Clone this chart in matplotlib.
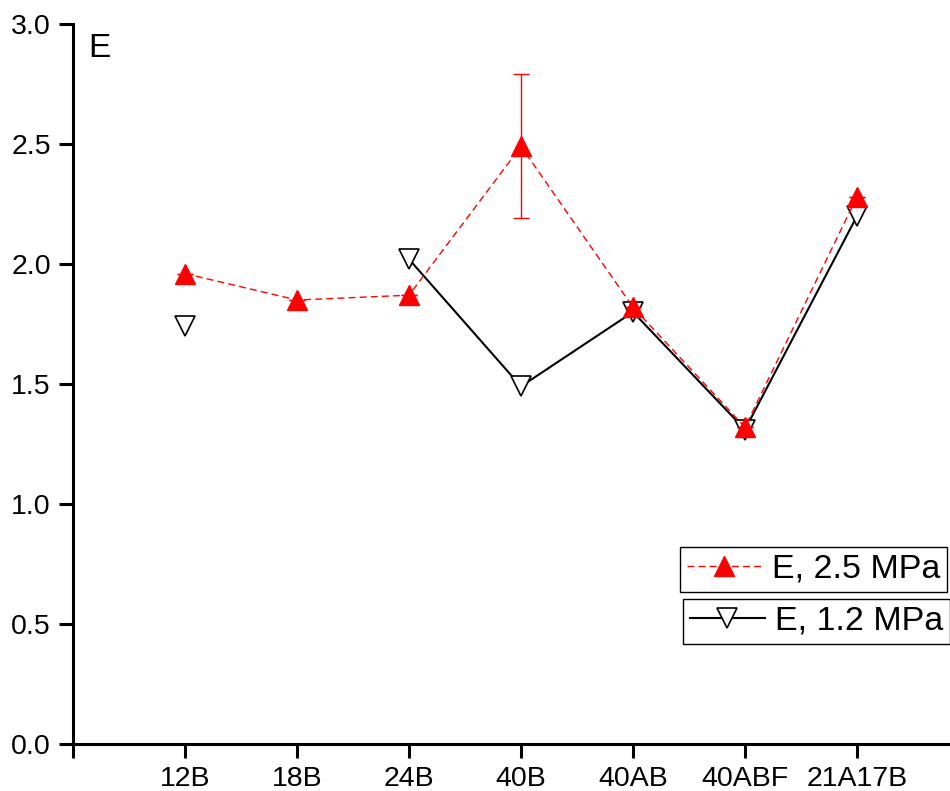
import numpy as np
import matplotlib
matplotlib.use("Agg")
import matplotlib.pyplot as plt

plt.rcParams['font.family'] = ['Liberation Sans', 'DejaVu Sans']

categories = ["12B", "18B", "24B", "40B", "40AB", "40ABF", "21A17B"]
e_25 = [1.96, 1.85, 1.87, 2.49, 1.82, 1.32, 2.28]
e_25_err = [0, 0, 0, 0.30, 0, 0, 0]
e_12 = [1.74, np.nan, 2.02, 1.49, 1.80, 1.31, 2.20]
yticks = [0.0, 0.5, 1.0, 1.5, 2.0, 2.5, 3.0]

fig = plt.figure(figsize=(9.5, 7.91), dpi=100)
ax = fig.add_axes([73/950, 47/791, 877/950, 720/791])

x = np.arange(1, len(categories) + 1)

l2, = ax.plot(x, e_12, color='black', linestyle='-', linewidth=1.5,
              marker='v', markersize=14, markerfacecolor='white',
              markeredgecolor='black', markeredgewidth=1.2,
              label='E, 1.2 MPa', zorder=3)
ax.errorbar(x, e_25, yerr=e_25_err, fmt='none', ecolor='red', elinewidth=1.0,
            capsize=5.5, capthick=1.0, zorder=4)
l1, = ax.plot(x, e_25, color='red', linestyle=(0, (5, 3)), linewidth=1.0,
              marker='^', markersize=14, markerfacecolor='red',
              markeredgecolor='red', label='E, 2.5 MPa', zorder=5)

ax.set_xlim(0, 877/112)
ax.set_ylim(0, 3.0)
ax.set_xticks([0] + list(x))
ax.set_xticklabels([""] + categories)
ax.set_yticks(yticks)
ax.set_yticklabels([f"{v:.1f}" for v in yticks])

for s in ['top', 'right']:
    ax.spines[s].set_visible(False)
for s in ['left', 'bottom']:
    ax.spines[s].set_linewidth(2.2)
ax.tick_params(axis='both', direction='out', length=10, width=2.2,
               labelsize=20.5, pad=6)

ax.text(0.017, 0.988, "E", transform=ax.transAxes, fontsize=24,
        ha='left', va='top')

leg_kw = dict(fontsize=24.5, frameon=True, fancybox=False, framealpha=1,
              edgecolor='black', numpoints=1, handlelength=2.2,
              handletextpad=0.3, borderpad=0.2, borderaxespad=0,
              loc='upper left', bbox_transform=fig.transFigure)
leg1 = ax.legend(handles=[l1], bbox_to_anchor=(680/950, 1 - 547/791), **leg_kw)
leg1.get_frame().set_linewidth(1.0)
ax.add_artist(leg1)
leg2 = ax.legend(handles=[l2], bbox_to_anchor=(683/950, 1 - 599/791), **leg_kw)
leg2.get_frame().set_linewidth(1.0)

fig.savefig("out.png", dpi=100)
